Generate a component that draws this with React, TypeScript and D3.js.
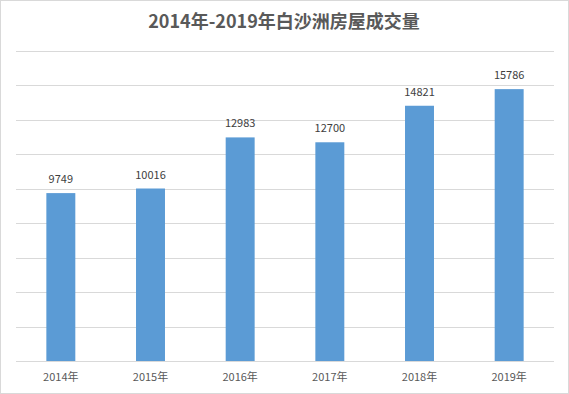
import React, { useEffect, useRef } from 'react';
import * as d3 from 'd3';

const years = ['2014年', '2015年', '2016年', '2017年', '2018年', '2019年'];
const volumes = [9749, 10016, 12983, 12700, 14821, 15786];
const gridTicks = [0, 2000, 4000, 6000, 8000, 10000, 12000, 14000, 16000, 18000];
const title = '2014年-2019年白沙洲房屋成交量';

export default function App() {
  const ref = useRef<SVGSVGElement>(null);

  useEffect(() => {
    const width = 569;
    const height = 394;
    const font = '"Microsoft YaHei", "Noto Sans CJK SC", sans-serif';

    const svg = d3.select(ref.current);
    svg.selectAll('*').remove();
    svg.attr('width', width).attr('height', height);

    // background + chart border
    svg.append('rect')
      .attr('x', 0.5).attr('y', 0.5)
      .attr('width', width - 1).attr('height', height - 1)
      .attr('fill', '#fff')
      .attr('stroke', '#d9d9d9');

    const x = d3.scaleBand()
      .domain(years)
      .range([16, 554])
      .paddingInner(0.677)
      .paddingOuter(0.3385);

    const y = d3.scaleLinear()
      .domain([0, 18000])
      .range([361, 51]);

    // gridlines
    svg.append('g')
      .selectAll('line')
      .data(gridTicks)
      .enter()
      .append('line')
      .attr('x1', 16)
      .attr('x2', 554)
      .attr('y1', d => Math.round(y(d)) + 0.5)
      .attr('y2', d => Math.round(y(d)) + 0.5)
      .attr('stroke', '#d9d9d9')
      .attr('stroke-width', 1);

    const data = years.map((yr, i) => ({ year: yr, value: volumes[i] }));

    // bars
    svg.append('g')
      .selectAll('rect')
      .data(data)
      .enter()
      .append('rect')
      .attr('x', d => x(d.year)!)
      .attr('width', x.bandwidth())
      .attr('y', d => y(d.value))
      .attr('height', d => y(0) - y(d.value))
      .attr('fill', '#5b9bd5');

    // value labels
    svg.append('g')
      .selectAll('text')
      .data(data)
      .enter()
      .append('text')
      .attr('x', d => x(d.year)! + x.bandwidth() / 2)
      .attr('y', d => y(d.value) - 10)
      .attr('text-anchor', 'middle')
      .attr('font-family', font)
      .attr('font-size', 11)
      .attr('fill', '#404040')
      .text(d => d.value);

    // category labels
    svg.append('g')
      .selectAll('text')
      .data(years)
      .enter()
      .append('text')
      .attr('x', d => x(d)! + x.bandwidth() / 2)
      .attr('y', 381)
      .attr('text-anchor', 'middle')
      .attr('font-family', font)
      .attr('font-size', 11)
      .attr('fill', '#595959')
      .text(d => d);

    // title
    svg.append('text')
      .attr('x', 284)
      .attr('y', 28)
      .attr('text-anchor', 'middle')
      .attr('font-family', font)
      .attr('font-size', 18)
      .attr('font-weight', 'bold')
      .attr('fill', '#595959')
      .text(title);
  }, []);

  return <svg ref={ref} style={{ position: 'absolute', left: 0, top: 0 }}></svg>;
}
